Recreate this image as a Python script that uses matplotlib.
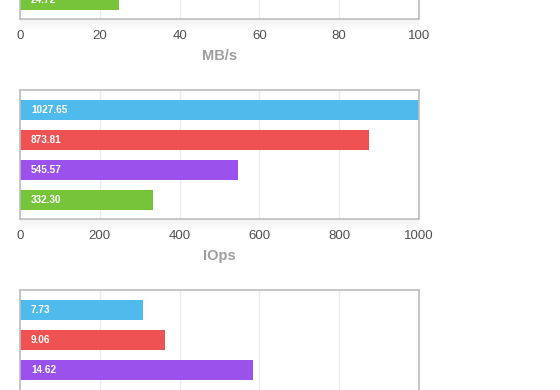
import numpy as np
import matplotlib.pyplot as plt

plt.rcParams['font.family'] = ['Liberation Sans', 'DejaVu Sans']

# Данные (видимая часть)
colors = ['#4fbbec', '#ef5252', '#9b51ec', '#76c43a']

mbs_values = [24.72]          # верхняя панель: видна только зелёная полоса
mbs_colors = [colors[3]]
mbs_pos = [3]
mbs_ticks = [0, 20, 40, 60, 80, 100]

iops_values = [1027.65, 873.81, 545.57, 332.30]
iops_ticks = [0, 200, 400, 600, 800, 1000]

lat_values = [7.73, 9.06, 14.62]   # нижняя панель обрезана
lat_ticks = [0, 5, 10, 15, 20, 25]

W, H = 560, 390
fig = plt.figure(figsize=(W / 100, H / 100), dpi=100)


def px_axes(left, top, width, height):
    return fig.add_axes([left / W, (H - top - height) / H, width / W, height / H])


def panel(top, pos, values, cols, ticks, xlabel, show_ticks=True):
    # тень под рамкой
    sh = px_axes(20, top + 129, 399, 12)
    grad = np.linspace(0.10, 0.0, 12)[:, None] * np.ones((1, 50))
    sh.imshow(grad, cmap='Greys', vmin=0, vmax=1, aspect='auto', extent=[0, 1, 0, 1])
    sh.axis('off')

    ax = px_axes(20, top, 399, 129)
    ax.barh(pos, values, height=0.667, color=cols, zorder=2)
    for p, v in zip(pos, values):
        ax.annotate(f'{v:.2f}', (0, p), xytext=(8, 0), textcoords='offset points',
                    va='center', ha='left', color='white', fontsize=7.2,
                    fontweight='bold', zorder=3)
    ax.set_xlim(ticks[0], ticks[-1])
    ax.set_ylim(3.633, -0.667)
    ax.set_xticks(ticks)
    ax.set_yticks([])
    ax.grid(axis='x', color='#ebebeb', linewidth=1, zorder=0)
    ax.set_axisbelow(True)
    for s in ax.spines.values():
        s.set_color('#bdbdbd')
        s.set_linewidth(1.2)
    ax.tick_params(axis='x', length=0, pad=8, labelsize=9.5, labelcolor='#505050',
                   labelbottom=show_ticks)
    if xlabel:
        ax.set_xlabel(xlabel, fontsize=10.5, fontweight='bold', color='#9e9e9e', labelpad=5)
    return ax


panel(-110, mbs_pos, mbs_values, mbs_colors, mbs_ticks, 'MB/s')
panel(90, [0, 1, 2, 3], iops_values, colors, iops_ticks, 'IOps')
panel(290, [0, 1, 2], lat_values, colors[:3], lat_ticks, '', show_ticks=False)

fig.savefig('out.png', dpi=100)
